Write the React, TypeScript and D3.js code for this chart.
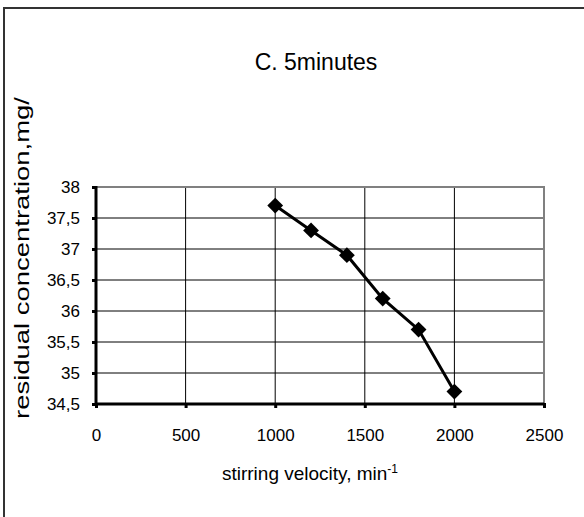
import React, { useRef, useEffect } from 'react';
import * as d3 from 'd3';

const velocity = [1000, 1200, 1400, 1600, 1800, 2000];
const concentration = [37.7, 37.3, 36.9, 36.2, 35.7, 34.7];
const xTicks = [0, 500, 1000, 1500, 2000, 2500];
const yTicks = [34.5, 35, 35.5, 36, 36.5, 37, 37.5, 38];

const App: React.FC = () => {
  const ref = useRef<SVGSVGElement>(null);

  useEffect(() => {
    if (!ref.current) return;
    const svg = d3.select(ref.current);
    svg.selectAll('*').remove();

    const width = 584;
    const height = 517;
    const font = '"Liberation Sans", Arial, sans-serif';

    const x = d3.scaleLinear().domain([0, 2500]).range([96, 544]);
    const y = d3.scaleLinear().domain([34.5, 38]).range([404, 187]);

    svg.append('rect').attr('width', width).attr('height', height).attr('fill', '#fff');

    // outer frame (only top and left are in view)
    svg.append('path')
      .attr('d', `M4,${height} L4,8 L${width},8`)
      .attr('fill', 'none')
      .attr('stroke', '#333')
      .attr('stroke-width', 2);

    // grid
    svg.append('g').selectAll('line')
      .data(yTicks.slice(1, -1))
      .enter().append('line')
      .attr('x1', x(0)).attr('x2', x(2500))
      .attr('y1', d => y(d)).attr('y2', d => y(d))
      .attr('stroke', '#000').attr('stroke-width', 1);
    svg.append('g').selectAll('line')
      .data(xTicks.slice(1, -1))
      .enter().append('line')
      .attr('y1', y(34.5)).attr('y2', y(38))
      .attr('x1', d => x(d)).attr('x2', d => x(d))
      .attr('stroke', '#000').attr('stroke-width', 1);

    // plot border top/right in gray
    svg.append('path')
      .attr('d', `M${x(0)},${y(38)} L${x(2500)},${y(38)} L${x(2500)},${y(34.5)}`)
      .attr('fill', 'none')
      .attr('stroke', '#808080')
      .attr('stroke-width', 2);

    // axes
    const xAxis = d3.axisBottom(x).tickValues(xTicks).tickSize(5).tickFormat(d => String(d));
    const yAxis = d3.axisLeft(y).tickValues(yTicks).tickSize(5)
      .tickFormat(d => String(d).replace('.', ','));

    const gx = svg.append('g').attr('transform', `translate(0,${y(34.5)})`).call(xAxis);
    const gy = svg.append('g').attr('transform', `translate(${x(0)},0)`).call(yAxis);
    [gx, gy].forEach(g => {
      g.select('.domain').remove();
      g.selectAll('line').attr('stroke', '#000').attr('stroke-width', 3);
      g.selectAll('text').attr('font-family', font).attr('font-size', 17).attr('fill', '#000');
    });
    gx.selectAll('line').attr('y1', -1).attr('y2', 4);
    gy.selectAll('line').attr('x1', 1).attr('x2', -4);
    gx.selectAll('text').attr('dy', '0').attr('y', 37);
    gy.selectAll('text').attr('x', -16).attr('dy', '0.35em');

    svg.append('line')
      .attr('x1', x(0)).attr('x2', x(2500)).attr('y1', y(34.5)).attr('y2', y(34.5))
      .attr('stroke', '#000').attr('stroke-width', 3);
    svg.append('line')
      .attr('x1', x(0)).attr('x2', x(0)).attr('y1', y(34.5) + 1.5).attr('y2', y(38) - 1)
      .attr('stroke', '#000').attr('stroke-width', 3);

    // data line
    const pts = velocity.map((v, i) => [v, concentration[i]] as [number, number]);
    svg.append('path')
      .datum(pts)
      .attr('d', d3.line<[number, number]>().x(d => x(d[0])).y(d => y(d[1])))
      .attr('fill', 'none')
      .attr('stroke', '#000')
      .attr('stroke-width', 3);

    const diamond = d3.symbol().type(d3.symbolSquare).size(125);
    svg.append('g').selectAll('path')
      .data(pts)
      .enter().append('path')
      .attr('d', diamond)
      .attr('transform', d => `translate(${x(d[0])},${y(d[1])}) rotate(45)`)
      .attr('fill', '#000');

    // title
    svg.append('text')
      .attr('x', 316).attr('y', 70)
      .attr('text-anchor', 'middle')
      .attr('font-family', font).attr('font-size', 23)
      .text('C. 5minutes');

    // y label
    svg.append('text')
      .attr('transform', 'translate(29,258) rotate(-90)')
      .attr('text-anchor', 'middle')
      .attr('font-family', font).attr('font-size', 21)
      .attr('textLength', 322).attr('lengthAdjust', 'spacingAndGlyphs')
      .text('residual concentration,mg/');

    // x label
    const xl = svg.append('text')
      .attr('x', 310).attr('y', 480)
      .attr('text-anchor', 'middle')
      .attr('font-family', font).attr('font-size', 19);
    xl.append('tspan').text('stirring velocity, min');
    xl.append('tspan').attr('font-size', 12).attr('dy', -7).text('-1');
  }, []);

  return (
    <svg ref={ref} width={584} height={517}
      style={{ position: 'absolute', left: 0, top: 0, display: 'block' }} />
  );
};

export default App;
